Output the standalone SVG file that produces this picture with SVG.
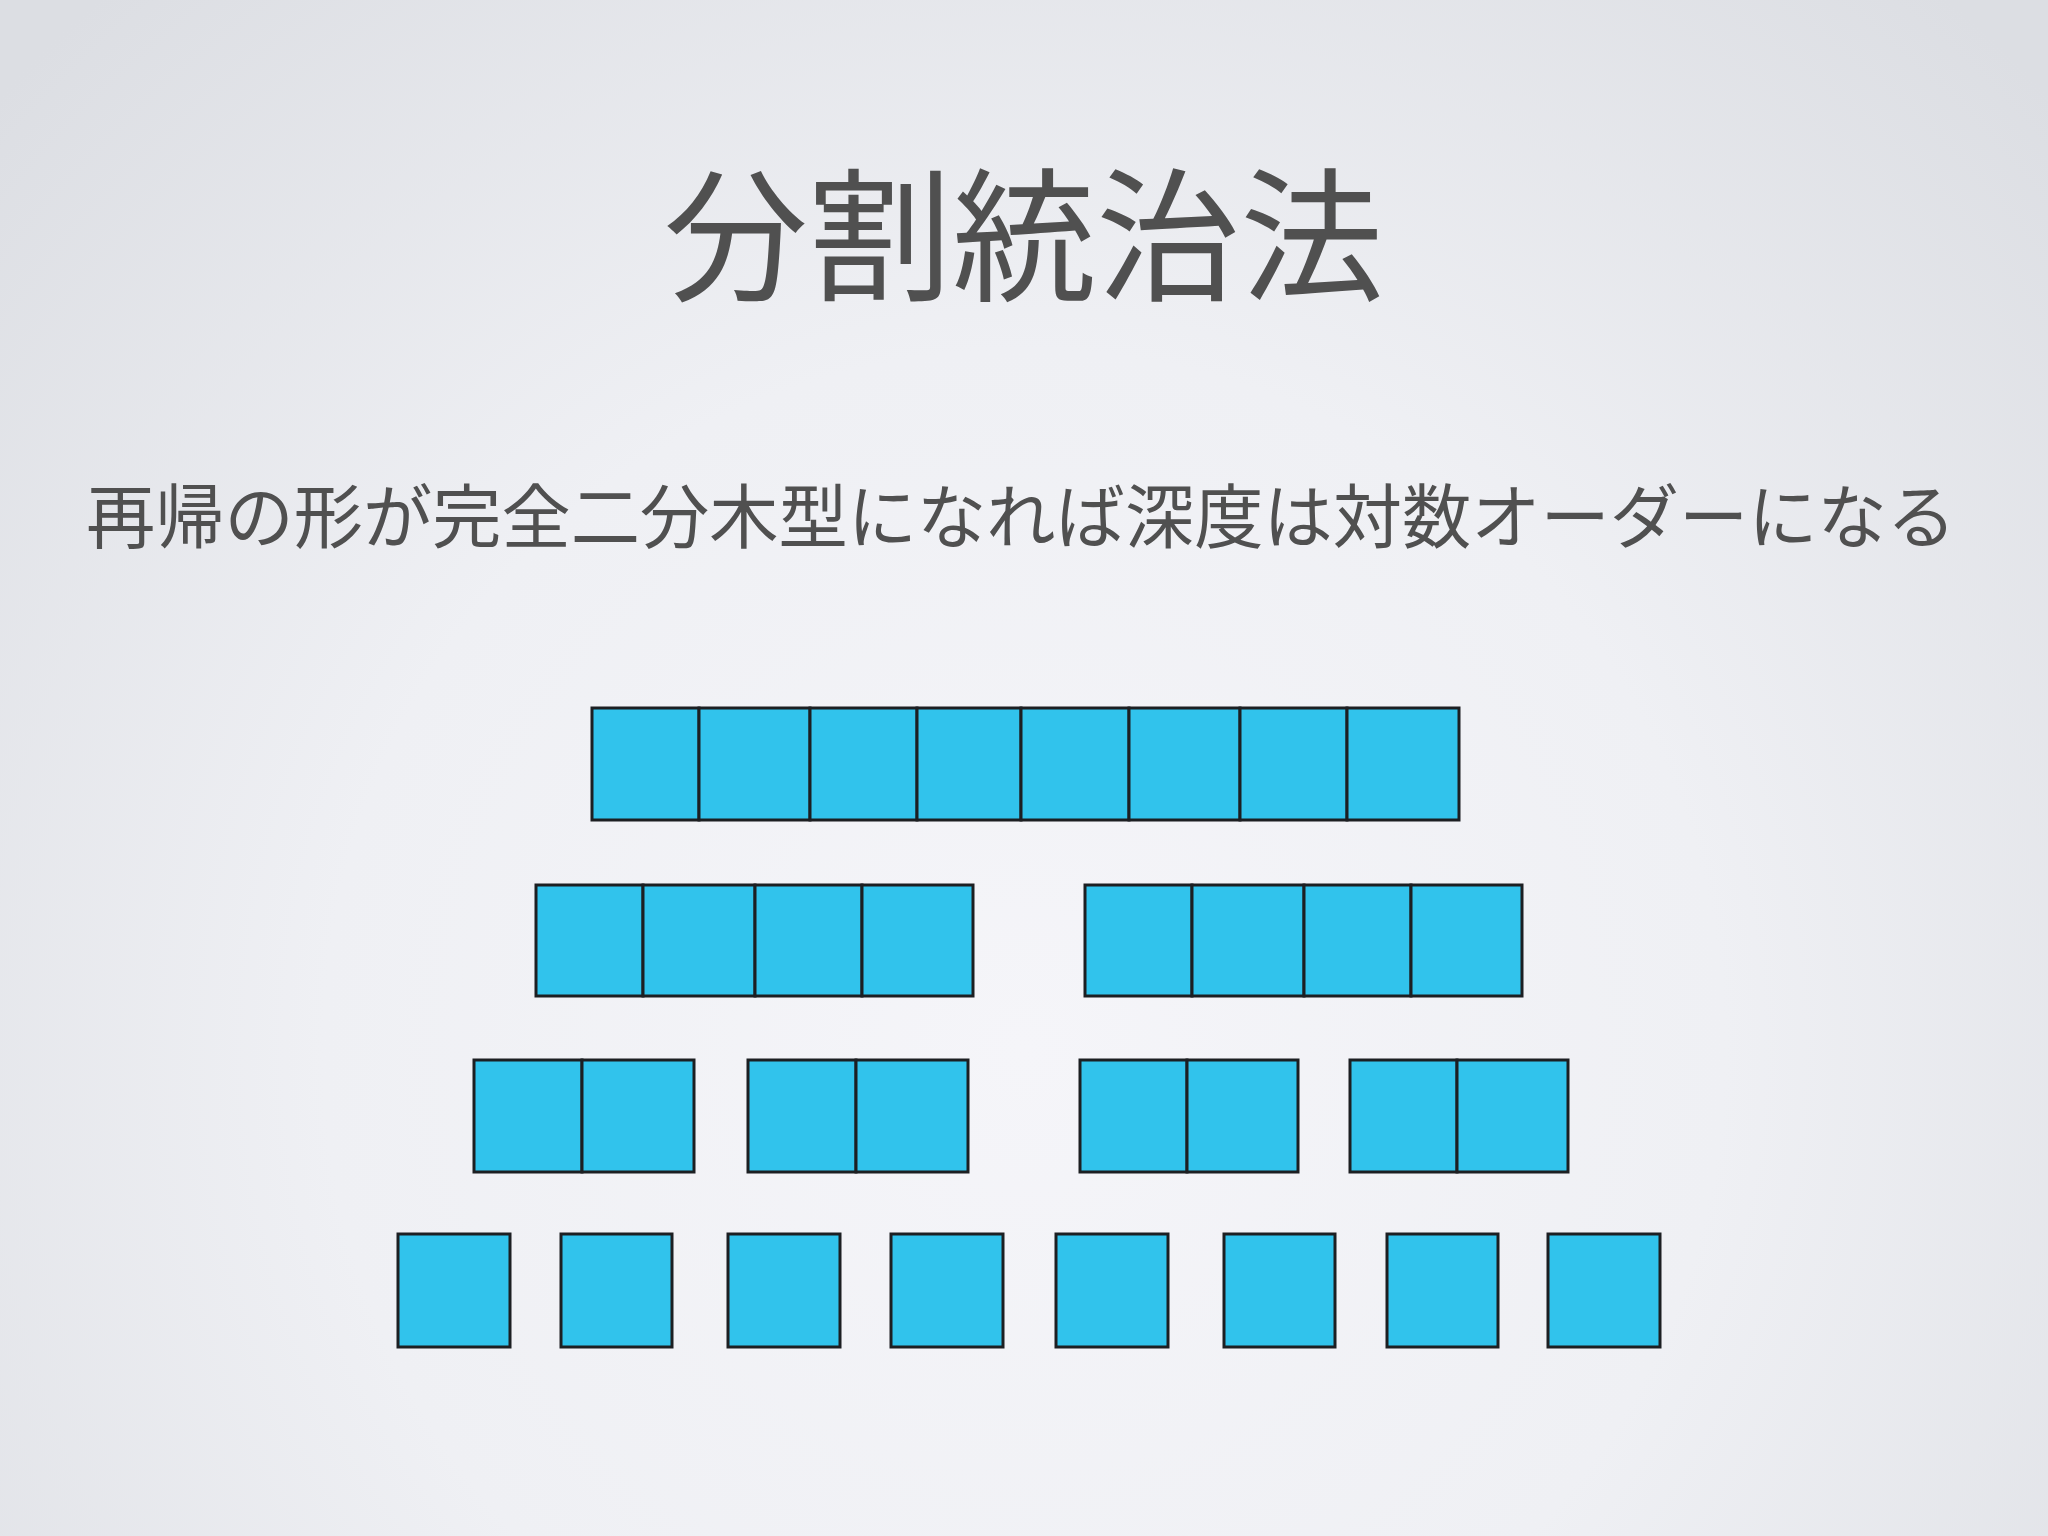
<svg xmlns="http://www.w3.org/2000/svg" width="2048" height="1536" viewBox="0 0 2048 1536">
<defs>
<radialGradient id="bg" cx="1024" cy="1050" r="1400" gradientUnits="userSpaceOnUse">
<stop offset="0" stop-color="#f5f5f9"/>
<stop offset="0.5" stop-color="#eff0f4"/>
<stop offset="1" stop-color="#dcdee3"/>
</radialGradient>
<style>
.cell{fill:#31c3ec;stroke:#1c1f22;stroke-width:3}
.t{font-family:"Noto Sans CJK JP","Noto Sans CJK SC",sans-serif;fill:#505050}
</style>
</defs>
<rect x="0" y="0" width="2048" height="1536" fill="url(#bg)"/>
<text class="t" x="1024" y="290" font-size="144" text-anchor="middle" font-weight="400">分割統治法</text>
<text class="t" x="86" y="543" font-size="70" textLength="1870" lengthAdjust="spacingAndGlyphs" font-weight="400">再帰の形が完全二分木型になれば深度は対数オーダーになる</text>
<g id="row1">
<rect class="cell" x="592" y="708" width="107" height="112"/>
<rect class="cell" x="699" y="708" width="111" height="112"/>
<rect class="cell" x="810" y="708" width="107" height="112"/>
<rect class="cell" x="917" y="708" width="104" height="112"/>
<rect class="cell" x="1021" y="708" width="108" height="112"/>
<rect class="cell" x="1129" y="708" width="111" height="112"/>
<rect class="cell" x="1240" y="708" width="107" height="112"/>
<rect class="cell" x="1347" y="708" width="112" height="112"/>
</g>
<g id="row2-a">
<rect class="cell" x="536" y="885" width="107" height="111"/>
<rect class="cell" x="643" y="885" width="112" height="111"/>
<rect class="cell" x="755" y="885" width="107" height="111"/>
<rect class="cell" x="862" y="885" width="111" height="111"/>
</g>
<g id="row2-b">
<rect class="cell" x="1085" y="885" width="107" height="111"/>
<rect class="cell" x="1192" y="885" width="112" height="111"/>
<rect class="cell" x="1304" y="885" width="107" height="111"/>
<rect class="cell" x="1411" y="885" width="111" height="111"/>
</g>
<g id="row3-a">
<rect class="cell" x="474" y="1060" width="108" height="112"/>
<rect class="cell" x="582" y="1060" width="112" height="112"/>
</g>
<g id="row3-b">
<rect class="cell" x="748" y="1060" width="108" height="112"/>
<rect class="cell" x="856" y="1060" width="112" height="112"/>
</g>
<g id="row3-c">
<rect class="cell" x="1080" y="1060" width="107" height="112"/>
<rect class="cell" x="1187" y="1060" width="111" height="112"/>
</g>
<g id="row3-d">
<rect class="cell" x="1350" y="1060" width="107" height="112"/>
<rect class="cell" x="1457" y="1060" width="111" height="112"/>
</g>
<g id="row4">
<rect class="cell" x="398" y="1234" width="112" height="113"/>
<rect class="cell" x="561" y="1234" width="111" height="113"/>
<rect class="cell" x="728" y="1234" width="112" height="113"/>
<rect class="cell" x="891" y="1234" width="112" height="113"/>
<rect class="cell" x="1056" y="1234" width="112" height="113"/>
<rect class="cell" x="1224" y="1234" width="111" height="113"/>
<rect class="cell" x="1387" y="1234" width="111" height="113"/>
<rect class="cell" x="1548" y="1234" width="112" height="113"/>
</g>
</svg>
